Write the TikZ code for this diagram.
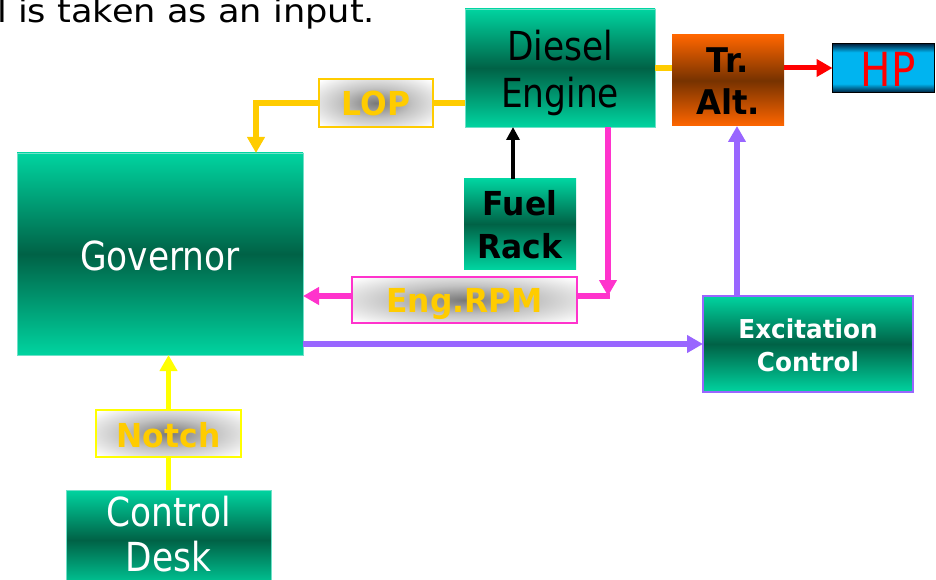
\documentclass[tikz,border=0pt]{standalone}
\usepackage{fontspec}
\usetikzlibrary{arrows.meta,calc}
\newfontfamily\regf{DejaVu Sans}[FakeStretch=0.86]
\newfontfamily\boldf{DejaVu Sans}[FakeStretch=0.95]
\newfontfamily\topf{DejaVu Sans}[FakeStretch=1.1]
\definecolor{grlight}{RGB}{0,212,160}
\definecolor{grdark}{RGB}{0,98,70}
\definecolor{grborder}{RGB}{110,225,200}
\definecolor{orlight}{RGB}{255,102,0}
\definecolor{ordark}{RGB}{118,50,0}
\definecolor{hpdark}{RGB}{0,30,60}
\definecolor{hpcyan}{RGB}{0,180,240}
\definecolor{goldc}{RGB}{255,204,0}
\definecolor{yellowc}{RGB}{255,255,0}
\definecolor{pinkc}{RGB}{255,51,204}
\definecolor{purplec}{RGB}{153,102,255}
\definecolor{redc}{RGB}{255,0,0}
\definecolor{glowa}{RGB}{120,120,120}
\definecolor{glowb}{RGB}{195,195,195}
\pgfdeclareverticalshading{hpshade}{100bp}{color(0bp)=(hpdark); color(25bp)=(hpdark); color(34bp)=(hpcyan); color(66bp)=(hpcyan); color(75bp)=(hpdark); color(100bp)=(hpdark)}
\pgfdeclareradialshading{glow}{\pgfpoint{0bp}{0bp}}{color(0bp)=(glowa); color(16bp)=(glowb); color(34bp)=(white); color(50bp)=(white)}
\begin{document}
\begin{tikzpicture}[x=1pt,y=-1pt,
  box/.style={rectangle, inner sep=0pt, outer sep=0pt},
  greenbox/.style={box, top color=grlight, bottom color=grlight, middle color=grdark, draw=grborder, line width=0.8pt},
  orangebox/.style={box, top color=orlight, bottom color=orlight, middle color=ordark},
  hpbox/.style={box, shading=hpshade, draw=black, line width=1.5pt},
  labelbox/.style={box, shading=glow, line width=1.6pt},
  rt/.style={inner sep=0pt, anchor=base},
  regt/.style={rt, font=\regf\fontsize{40}{40}\selectfont},
  boldt/.style={rt, font=\boldf\bfseries\fontsize{33}{33}\selectfont},
  tipa/.style={-{Triangle[length=16pt,width=17pt]}},
  conn/.style={line width=5.5pt}
]
\useasboundingbox (0,0) rectangle (936,580);

% top text
\node[inner sep=0pt, anchor=base west, font=\topf\fontsize{32}{32}\selectfont] (toptext) at (-3,23) {l is taken as an input.};

% boxes
\node[greenbox, minimum width=190pt, minimum height=118pt] (de) at (560,68) {};
\node[orangebox, minimum width=112pt, minimum height=91pt] (ta) at (728,80.5) {};
\node[hpbox, minimum width=102pt, minimum height=49pt] (hp) at (883.5,68) {};
\node[labelbox, draw=goldc, minimum width=114pt, minimum height=48pt] (lop) at (376,103) {};
\node[greenbox, minimum width=286pt, minimum height=202pt] (gov) at (160,254) {};
\node[greenbox, draw=none, minimum width=112pt, minimum height=90pt] (fr) at (520,224) {};
\node[labelbox, draw=pinkc, minimum width=225pt, minimum height=46pt] (rpm) at (464.5,300) {};
\node[greenbox, draw=purplec, line width=1.6pt, minimum width=210pt, minimum height=96pt] (ex) at (808,344) {};
\node[labelbox, draw=yellowc, minimum width=145pt, minimum height=47pt] (notch) at (168.5,433.5) {};
\node[greenbox, minimum width=205pt, minimum height=100pt] (cd) at (168.5,540) {};

% texts
\node[regt] (deT1) at (560,61) {Diesel};
\node[regt] (deT2) at (560,108) {Engine};
\node[boldt, font=\boldf\bfseries\fontsize{34}{34}\selectfont] (taT1) at (728,73) {Tr.};
\node[boldt, font=\boldf\bfseries\fontsize{34}{34}\selectfont] (taT2) at (728,115) {Alt.};
\node[rt, text=redc, font=\regf\fontsize{47}{47}\selectfont] (hpT) at (888,87) {HP};
\node[boldt, text=goldc] (lopT) at (376,116) {LOP};
\node[regt, text=white] (govT) at (160,270) {Governor};
\node[boldt] (frT1) at (520,215) {Fuel};
\node[boldt] (frT2) at (520,258) {Rack};
\node[boldt, text=goldc] (rpmT) at (464.5,312) {Eng.RPM};
\node[rt, text=white, font=\boldf\bfseries\fontsize{26}{26}\selectfont] (exT1) at (808,338) {Excitation};
\node[rt, text=white, font=\boldf\bfseries\fontsize{26}{26}\selectfont] (exT2) at (808,371) {Control};
\node[boldt, text=goldc] (notchT) at (168.5,447) {Notch};
\node[regt, text=white] (cdT1) at (168.5,526) {Control};
\node[regt, text=white] (cdT2) at (168.5,571) {Desk};

% connectors
\draw[conn, goldc] (de.east) -- (de.east -| ta.west);
\draw[conn, redc, line width=5pt, tipa] (ta.east |- hp.west) -- (hp.west);
\draw[conn, goldc] (lop.east) -- (lop.east -| de.west);
\draw[conn, goldc, tipa] (lop.west) -| ([xshift=96pt]gov.north);
\draw[line width=4pt, black, -{Triangle[length=13pt,width=13pt]}] ([xshift=-7pt]fr.north) -- ([xshift=-7pt]fr.north |- de.south);
\coordinate (rpmc) at (608,296);
\draw[conn, pinkc, tipa] ([xshift=48pt]de.south) -- (rpmc);
\draw[conn, pinkc] (rpmc -| rpm.east) -- ([xshift=2pt]rpmc);
\draw[conn, pinkc, tipa] (rpmc -| rpm.west) -- (rpmc -| gov.east);
\draw[conn, purplec, tipa] (ex.west -| gov.east) -- (ex.west);
\draw[conn, purplec, tipa] ([xshift=-71pt]ex.north) -- ([xshift=-71pt]ex.north |- ta.south);
\draw[conn, yellowc] (cd.north -| notch.south) -- (notch.south);
\draw[conn, yellowc, tipa] (notch.north) -- (notch.north |- gov.south);
\end{tikzpicture}
\end{document}
